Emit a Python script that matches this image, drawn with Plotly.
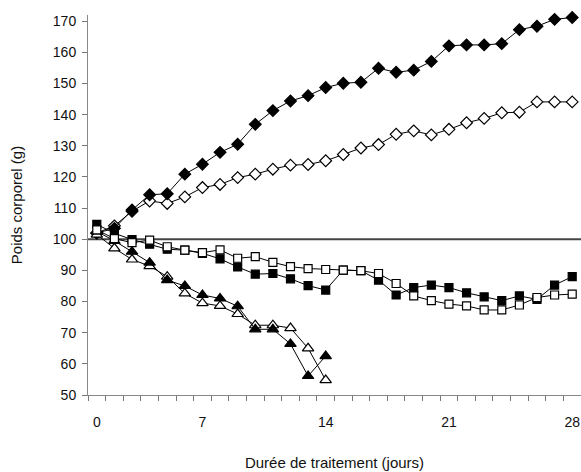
import plotly.graph_objects as go

# Category labels (days of treatment) for each measurement
days = ["0", "2", "3", "4", "5", "6", "7", "8", "9", "10", "11", "12", "13", "14",
        "15", "16", "17", "18", "19", "20", "21", "22", "23", "24", "25", "26", "27", "28"]
tick_days = ["0", "7", "14", "21", "28"]
y_ticks = [50, 60, 70, 80, 90, 100, 110, 120, 130, 140, 150, 160, 170]

diamond_filled = [102, 103.5, 109.4, 114.3, 114.6, 120.9, 124.1, 127.9, 130.5, 136.9,
                  141.3, 144.4, 146.1, 148.7, 150.1, 150.4, 154.9, 153.6, 154.3, 157.1,
                  162.1, 162.4, 162.4, 162.8, 167.3, 168.4, 170.6, 171.2]
diamond_open = [102, 104.3, 109.0, 112.3, 111.5, 113.6, 116.6, 117.6, 119.8, 120.9,
                122.5, 123.8, 124.0, 125.2, 127.2, 129.3, 130.4, 133.7, 134.8, 133.5,
                135.3, 137.4, 138.8, 140.6, 140.8, 144.1, 144.1, 144.1]
square_filled = [104.8, 101.9, 99.9, 98.4, 96.8, 96.5, 95.5, 93.7, 91.1, 88.8,
                 89.0, 87.3, 85.1, 83.7, 90.1, 89.9, 86.9, 82.1, 84.5, 85.3,
                 84.5, 82.8, 81.5, 80.3, 81.8, 80.7, 85.3, 88.0]
square_open = [103.0, 100.2, 98.9, 99.7, 97.6, 96.5, 95.7, 96.6, 93.9, 94.4,
               92.6, 91.2, 90.6, 90.3, 90.1, 89.9, 89.0, 85.8, 81.8, 80.3,
               79.2, 78.6, 77.3, 77.3, 78.9, 81.3, 82.1, 82.4]
triangle_filled = [102.5, 99.5, 96.0, 92.5, 86.9, 85.0, 82.1, 81.0, 78.5, 71.1,
                   71.1, 66.4, 56.1, 62.5]
triangle_open = [101.5, 97.1, 93.5, 91.4, 88.0, 82.6, 79.5, 78.6, 76.0, 72.4,
                 72.4, 71.5, 65.0, 54.8]

FONT = "Liberation Sans, Arial, sans-serif"

fig = go.Figure()


def add(vals, symbol, filled, size):
    fig.add_trace(go.Scatter(
        x=days[:len(vals)], y=vals, mode="lines+markers",
        line=dict(color="black", width=1),
        marker=dict(symbol=symbol, size=size,
                    color="black" if filled else "white",
                    line=dict(color="black", width=1.2)),
        showlegend=False, cliponaxis=False))


add(diamond_open, "diamond", False, 9)
add(diamond_filled, "diamond", True, 9)
add(triangle_open, "triangle-up", False, 10)
add(triangle_filled, "triangle-up", True, 10)
add(square_filled, "square", True, 8)
add(square_open, "square", False, 8)

fig.add_shape(type="line", xref="paper", x0=0, x1=1, yref="y", y0=100, y1=100,
              line=dict(color="#444444", width=2), layer="below")

fig.update_layout(
    width=581, height=472,
    margin=dict(l=88, r=0, t=15, b=77, autoexpand=False),
    paper_bgcolor="white", plot_bgcolor="white",
    font=dict(family=FONT, size=14, color="#111111"),
    xaxis=dict(
        type="category", categoryorder="array", categoryarray=days,
        range=[-0.5, 27.5], automargin=False, tickangle=0,
        tickmode="array", tickvals=days,
        ticktext=[d if d in tick_days else "" for d in days],
        tickson="boundaries", ticks="outside", ticklen=5, tickwidth=1,
        tickcolor="#777777", showline=True, linecolor="#888888", linewidth=1,
        showgrid=False, zeroline=False, ticklabelstandoff=14,
        title=dict(text="Durée de traitement (jours)", font=dict(size=15), standoff=28),
    ),
    yaxis=dict(
        range=[50, 172], tickvals=y_ticks, ticks="outside", ticklen=5, tickwidth=1,
        automargin=False,
        tickcolor="#777777", showline=True, linecolor="#888888", linewidth=1,
        showgrid=False, zeroline=False, ticklabelstandoff=3,
        title=dict(text="Poids corporel (g)", font=dict(size=15), standoff=26),
    ),
)

fig.write_html(
    "out.html",
    config={"displayModeBar": False},
    post_script="document.body.style.margin='0';document.body.style.overflow='hidden';",
)
